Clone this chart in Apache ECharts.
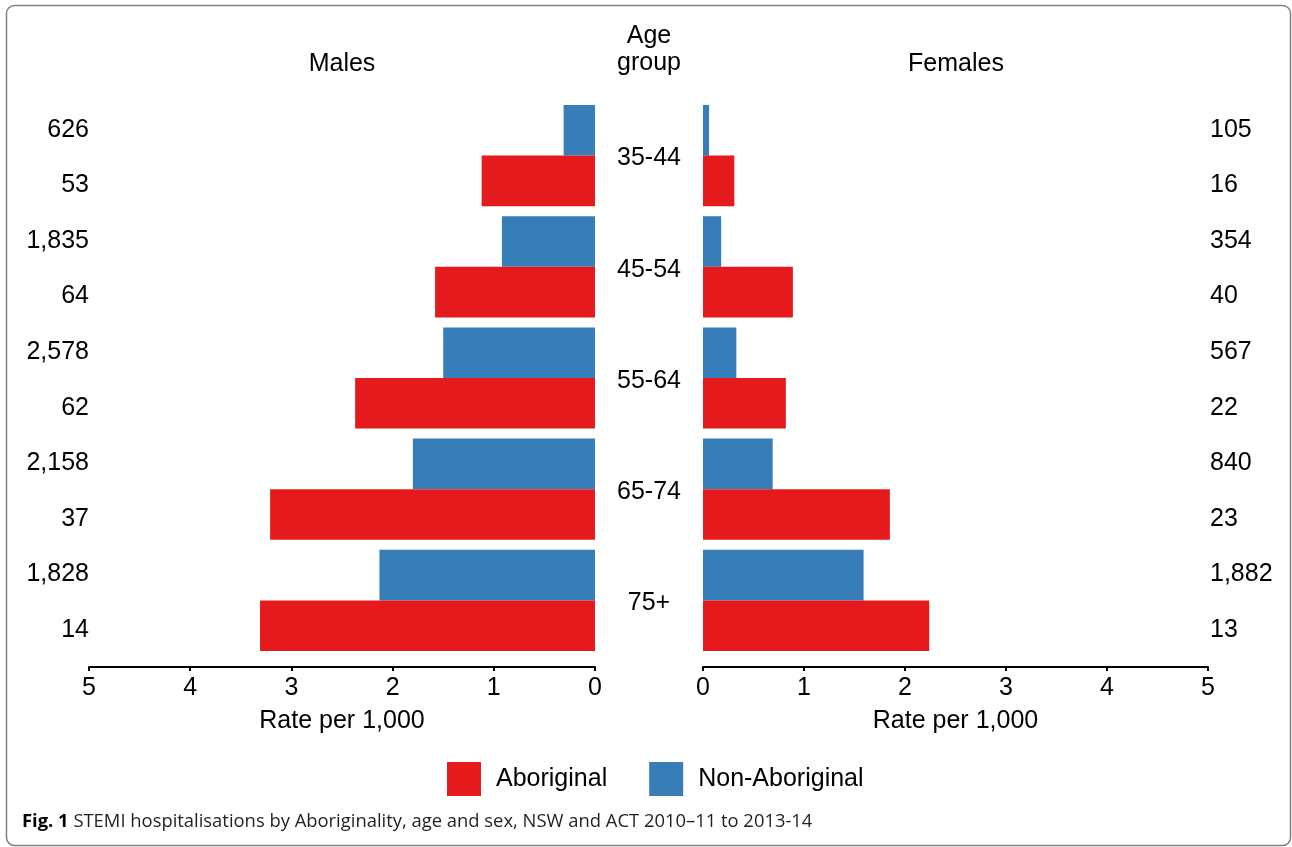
<!DOCTYPE html>
<html>
<head>
<meta charset="utf-8">
<script src="https://cdn.jsdelivr.net/npm/echarts@6/dist/echarts.min.js"></script>
<style>html,body{margin:0;padding:0;background:#fff}#c{width:1292px;height:847px}</style>
</head>
<body>
<div id="c"></div>
<script>
// ---- data ----
const ageGroups = ['35-44', '45-54', '55-64', '65-74', '75+'];
const maleAboriginal = [1.12, 1.58, 2.37, 3.21, 3.31];
const maleNonAboriginal = [0.31, 0.92, 1.50, 1.80, 2.13];
const femaleAboriginal = [0.31, 0.89, 0.82, 1.85, 2.24];
const femaleNonAboriginal = [0.06, 0.18, 0.33, 0.69, 1.59];
const maleAboriginalCounts = [53, 64, 62, 37, 14];
const maleNonAboriginalCounts = [626, 1835, 2578, 2158, 1828];
const femaleAboriginalCounts = [16, 40, 22, 23, 13];
const femaleNonAboriginalCounts = [105, 354, 567, 840, 1882];
const rateTicks = [0, 1, 2, 3, 4, 5];

const RED = '#E41A1C', BLUE = '#377EB8';
const FONT = '"Liberation Sans", Arial, sans-serif';
const CAPFONT = '"Open Sans", "Noto Sans", sans-serif';
const fmt = n => n.toLocaleString('en-US');
const interleave = (a, b) => a.flatMap((v, i) => [fmt(v), fmt(b[i])]);
const maleCountLabels = interleave(maleNonAboriginalCounts, maleAboriginalCounts);
const femaleCountLabels = interleave(femaleNonAboriginalCounts, femaleAboriginalCounts);

const chart = echarts.init(document.getElementById('c'), null, {renderer: 'canvas'});

function xAx(gridIndex, inverse) {
  return {
    gridIndex, type: 'value', inverse,
    min: rateTicks[0], max: rateTicks[rateTicks.length - 1], interval: 1,
    offset: 11,
    axisLine: {show: true, onZero: false, lineStyle: {color: '#000', width: 2}},
    axisTick: {show: true, length: 4, lineStyle: {color: '#000', width: 2}},
    axisLabel: {fontSize: 25, color: '#000', margin: 9, fontFamily: FONT},
    splitLine: {show: false},
    name: 'Rate per 1,000', nameLocation: 'middle', nameGap: 42,
    nameTextStyle: {fontSize: 25, color: '#000', fontFamily: FONT}
  };
}
const hidden = {axisLine: {show: false}, axisTick: {show: false}, splitLine: {show: false}};
function yLab(extra, shift) {
  return Object.assign({
    interval: 0, fontSize: 25, color: '#000', fontFamily: FONT,
    formatter: v => '{a|' + v + '}',
    rich: {a: {fontSize: 25, color: '#000', fontFamily: FONT, padding: [shift, 0, 0, 0]}}
  }, extra);
}

const option = {
  animation: false,
  backgroundColor: '#fff',
  textStyle: {fontFamily: FONT},
  grid: [
    {left: 89, top: 100, width: 506, height: 556},
    {left: 703, top: 100, width: 505, height: 556}
  ],
  xAxis: [xAx(0, true), xAx(1, false)],
  yAxis: [
    Object.assign({gridIndex: 0, type: 'category', data: ageGroups, inverse: true, position: 'right',
      axisLabel: {show: false}}, hidden),
    Object.assign({gridIndex: 0, type: 'category', data: maleCountLabels, inverse: true, position: 'left',
      axisLabel: yLab({margin: 0}, 4)}, hidden),
    Object.assign({gridIndex: 1, type: 'category', data: ageGroups, inverse: true, position: 'left',
      axisLabel: yLab({margin: 54, align: 'center'}, 6)}, hidden),
    Object.assign({gridIndex: 1, type: 'category', data: femaleCountLabels, inverse: true, position: 'right',
      axisLabel: yLab({margin: 2}, 4)}, hidden)
  ],
  legend: {
    data: ['Aboriginal', 'Non-Aboriginal'],
    left: 442, top: 757, itemWidth: 34, itemHeight: 34, itemGap: 42, icon: 'rect',
    textStyle: {fontSize: 25, color: '#000', fontFamily: FONT, padding: [4, 0, 0, 10]}
  },
  series: [
    {name: 'Non-Aboriginal', type: 'bar', xAxisIndex: 0, yAxisIndex: 0, data: maleNonAboriginal,
      itemStyle: {color: BLUE}, barGap: '0%', barCategoryGap: '9%', silent: true},
    {name: 'Aboriginal', type: 'bar', xAxisIndex: 0, yAxisIndex: 0, data: maleAboriginal,
      itemStyle: {color: RED}, barGap: '0%', barCategoryGap: '9%', silent: true},
    {name: 'Non-Aboriginal', type: 'bar', xAxisIndex: 1, yAxisIndex: 2, data: femaleNonAboriginal,
      itemStyle: {color: BLUE}, barGap: '0%', barCategoryGap: '9%', silent: true},
    {name: 'Aboriginal', type: 'bar', xAxisIndex: 1, yAxisIndex: 2, data: femaleAboriginal,
      itemStyle: {color: RED}, barGap: '0%', barCategoryGap: '9%', silent: true}
  ],
  graphic: [
    {type: 'rect', shape: {x: 6.5, y: 5.5, width: 1284, height: 840, r: 8},
      style: {fill: 'none', stroke: '#808080', lineWidth: 1.5}, silent: true},
    {type: 'text', x: 342, y: 64, style: {text: 'Males', fontSize: 25, fontFamily: FONT, fill: '#000', align: 'center', verticalAlign: 'middle'}},
    {type: 'text', x: 956, y: 64, style: {text: 'Females', fontSize: 25, fontFamily: FONT, fill: '#000', align: 'center', verticalAlign: 'middle'}},
    {type: 'text', x: 649, y: 36, style: {text: 'Age', fontSize: 25, fontFamily: FONT, fill: '#000', align: 'center', verticalAlign: 'middle'}},
    {type: 'text', x: 649, y: 63, style: {text: 'group', fontSize: 25, fontFamily: FONT, fill: '#000', align: 'center', verticalAlign: 'middle'}},
    {type: 'text', x: 22, y: 822, style: {
      text: '{b|Fig. 1} STEMI hospitalisations by Aboriginality, age and sex, NSW and ACT 2010–11 to 2013-14',
      fontSize: 18.4, fontFamily: CAPFONT, fill: '#231f20', verticalAlign: 'middle',
      rich: {b: {fontSize: 18.4, fontWeight: 'bold', fontFamily: CAPFONT, fill: '#000'}}
    }}
  ]
};
chart.setOption(option);
</script>
</body>
</html>
